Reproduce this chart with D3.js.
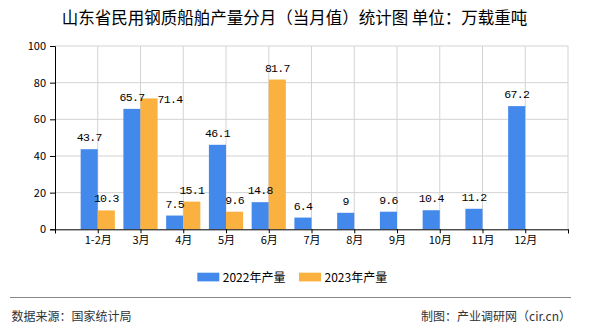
<!DOCTYPE html>
<html><head><meta charset="utf-8">
<script src="https://cdn.jsdelivr.net/npm/d3@7"></script>
<style>body{margin:0;background:#fff}svg{display:block}</style>
</head><body>
<script>
const categories = ["1-2月","3月","4月","5月","6月","7月","8月","9月","10月","11月","12月"];
const values2022 = [43.7,65.7,7.5,46.1,14.8,6.4,9,9.6,10.4,11.2,67.2];
const values2023 = [10.3,71.4,15.1,9.6,81.7,null,null,null,null,null,null];
const seriesNames = ["2022年产量","2023年产量"];
const yTicks = [0,20,40,60,80,100];
const title = "山东省民用钢质船舶产量分月（当月值）统计图 单位：万载重吨";
const source = "数据来源：国家统计局";
const maker = "制图：产业调研网（cir.cn）";

const W=590,H=330;
const colors=["#4389EC","#FBB13F"];
const cjk='"Noto Sans CJK SC","Noto Sans",sans-serif';
const mono='"Liberation Mono","DejaVu Sans Mono",monospace';
const svg=d3.select("body").append("svg").attr("width",W).attr("height",H);
const L=55,R=568,T=46,B=229.3;
const x=d3.scaleLinear().domain([0,categories.length+1]).range([L,R]);
const y=d3.scaleLinear().domain([0,100]).range([B,T]);
const step=x(1)-x(0), bw=step*0.4;

svg.append("text").attr("x",294.5).attr("y",24).attr("text-anchor","middle")
  .attr("font-family",cjk).attr("font-size",16.5).attr("fill","#000").text(title);

// grid
const g=svg.append("g");
g.selectAll(".hg").data(yTicks.filter(d=>d>0)).join("line")
  .attr("x1",L).attr("x2",R).attr("y1",d=>y(d)).attr("y2",d=>y(d))
  .attr("stroke","#d3d3d3").attr("stroke-width",1);
g.selectAll(".vg").data(d3.range(1,categories.length+2)).join("line")
  .attr("x1",d=>x(d)).attr("x2",d=>x(d)).attr("y1",T).attr("y2",B)
  .attr("stroke","#d3d3d3").attr("stroke-width",1);

// bars
[values2022,values2023].forEach((vals,s)=>{
  svg.append("g").selectAll("rect").data(vals.map((v,i)=>({v,i})).filter(d=>d.v!=null)).join("rect")
    .attr("x",d=>x(d.i+1)-bw+s*bw).attr("width",bw)
    .attr("y",d=>y(d.v)).attr("height",d=>B-y(d.v)).attr("fill",colors[s]);
});

// axes
const ya=svg.append("g").attr("transform",`translate(${L},0)`)
  .call(d3.axisLeft(y).tickValues(yTicks).tickSize(5).tickPadding(4));
ya.select(".domain").attr("stroke","#000");
ya.selectAll("text").attr("font-family",cjk).attr("font-size",11).attr("fill","#000");
const xa=svg.append("g").attr("transform",`translate(0,${B})`)
  .call(d3.axisBottom(x).tickValues(d3.range(0,categories.length+2)).tickSize(4).tickPadding(3)
    .tickFormat(d=>(d>=1&&d<=categories.length)?categories[d-1]:""));
xa.select(".domain").attr("stroke","#000");
xa.selectAll("text").attr("font-family",cjk).attr("font-size",11).attr("fill","#000");

// value labels
const fmt=v=>String(v);
const lblW=v=>fmt(v).length*6;
const boxes=[];
values2022.forEach((v,i)=>{
  if(v==null)return;
  const cx=x(i+1)-bw/2, by=y(v)-8;
  boxes[i]={x0:cx-lblW(v)/2,x1:cx+lblW(v)/2,y0:by-9,y1:by+2};
  svg.append("text").attr("x",cx).attr("y",by).attr("text-anchor","middle")
    .attr("font-family",mono).attr("font-size",11.5).attr("letter-spacing",-0.7)
    .attr("fill","#000").text(fmt(v));
});
values2023.forEach((v,i)=>{
  if(v==null)return;
  let cx=x(i+1)+bw/2, by=y(v)-8, anchor="middle";
  const b=boxes[i];
  const bx={x0:cx-lblW(v)/2,x1:cx+lblW(v)/2,y0:by-9,y1:by+2};
  if(b && bx.x0<b.x1 && bx.x1>b.x0 && bx.y0<b.y1 && bx.y1>b.y0){
    cx=x(i+1)+bw; by=y(v)+5; anchor="start";
  }
  svg.append("text").attr("x",cx).attr("y",by).attr("text-anchor",anchor)
    .attr("font-family",mono).attr("font-size",11.5).attr("letter-spacing",-0.7)
    .attr("fill","#000").text(fmt(v));
});

// legend
const lg=svg.append("g");
const lx=[197.3,299];
seriesNames.forEach((n,s)=>{
  lg.append("rect").attr("x",lx[s]).attr("y",272.7).attr("width",22).attr("height",8.7).attr("fill",colors[s]);
  lg.append("text").attr("x",lx[s]+25.5).attr("y",281.5).attr("font-family",cjk).attr("font-size",12)
    .attr("fill","#000").text(n);
});

// footer
svg.append("line").attr("x1",10).attr("x2",571).attr("y1",297.5).attr("y2",297.5).attr("stroke","#888").attr("stroke-width",1);
svg.append("text").attr("x",11.5).attr("y",320.5).attr("font-family",cjk).attr("font-size",12).attr("fill","#333").text(source);
svg.append("text").attr("x",571).attr("y",320.5).attr("text-anchor","end").attr("font-family",cjk).attr("font-size",12).attr("fill","#333").text(maker);
</script>
</body></html>
